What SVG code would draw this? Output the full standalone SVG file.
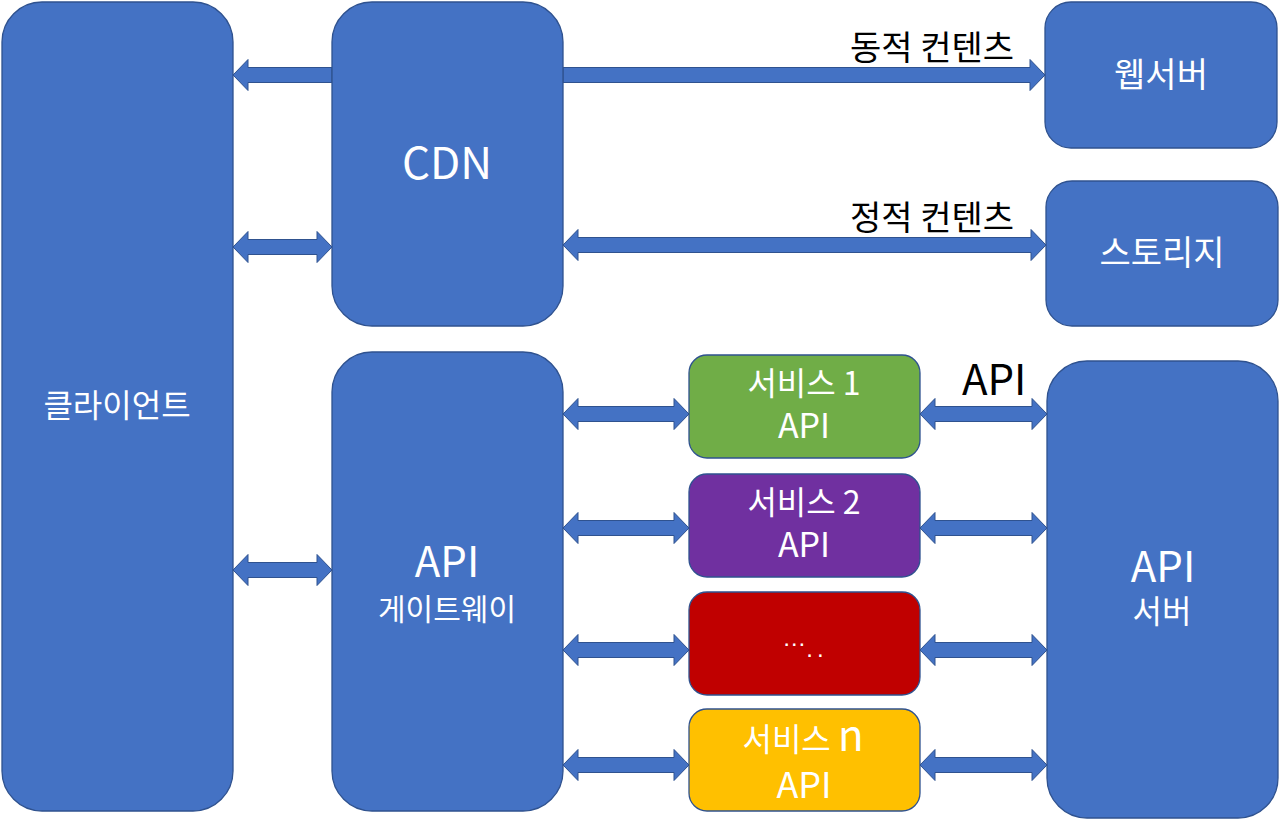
<svg xmlns="http://www.w3.org/2000/svg" width="1280" height="829" viewBox="0 0 1280 829">
<style>
.blue{fill:#4472C4;stroke:#2F528F;stroke-width:1.3}
.svc{stroke:#2F528F;stroke-width:1.3}
.arr{fill:#4472C4;stroke:#2F528F;stroke-width:1}
text{font-family:"Noto Sans CJK KR","Noto Sans",sans-serif;text-anchor:middle}
.w{fill:#FFFFFF}
.k{fill:#000000}
</style>
<rect width="1280" height="829" fill="#FFFFFF"/>
<g id="connectors">
<path class="arr" d="M233,75 L248,59.5 L248,67.5 L332,67.5 L332,82.5 L248,82.5 L248,90.5 Z"/>
<path class="arr" d="M233,247 L248,231.5 L248,239.5 L317,239.5 L317,231.5 L332,247 L317,262.5 L317,254.5 L248,254.5 L248,262.5 Z"/>
<path class="arr" d="M233,570 L248,554.5 L248,562.5 L317,562.5 L317,554.5 L332,570 L317,585.5 L317,577.5 L248,577.5 L248,585.5 Z"/>
<path class="arr" d="M563,67.5 L1030,67.5 L1030,59.5 L1045,75 L1030,90.5 L1030,82.5 L563,82.5 Z"/>
<path class="arr" d="M563,245 L578,229.5 L578,237.5 L1031,237.5 L1031,229.5 L1046,245 L1031,260.5 L1031,252.5 L578,252.5 L578,260.5 Z"/>
<path class="arr" d="M563,414 L578,398.5 L578,406.5 L674,406.5 L674,398.5 L689,414 L674,429.5 L674,421.5 L578,421.5 L578,429.5 Z"/>
<path class="arr" d="M563,528 L578,512.5 L578,520.5 L674,520.5 L674,512.5 L689,528 L674,543.5 L674,535.5 L578,535.5 L578,543.5 Z"/>
<path class="arr" d="M563,650 L578,634.5 L578,642.5 L674,642.5 L674,634.5 L689,650 L674,665.5 L674,657.5 L578,657.5 L578,665.5 Z"/>
<path class="arr" d="M563,765 L578,749.5 L578,757.5 L674,757.5 L674,749.5 L689,765 L674,780.5 L674,772.5 L578,772.5 L578,780.5 Z"/>
<path class="arr" d="M920,414 L935,398.5 L935,406.5 L1032,406.5 L1032,398.5 L1047,414 L1032,429.5 L1032,421.5 L935,421.5 L935,429.5 Z"/>
<path class="arr" d="M920,528 L935,512.5 L935,520.5 L1032,520.5 L1032,512.5 L1047,528 L1032,543.5 L1032,535.5 L935,535.5 L935,543.5 Z"/>
<path class="arr" d="M920,650 L935,634.5 L935,642.5 L1032,642.5 L1032,634.5 L1047,650 L1032,665.5 L1032,657.5 L935,657.5 L935,665.5 Z"/>
<path class="arr" d="M920,765 L935,749.5 L935,757.5 L1032,757.5 L1032,749.5 L1047,765 L1032,780.5 L1032,772.5 L935,772.5 L935,780.5 Z"/>
<text class="k" x="1014" y="60" font-size="34" style="text-anchor:end">동적 컨텐츠</text>
<text class="k" x="1014" y="230" font-size="34" style="text-anchor:end">정적 컨텐츠</text>
<text class="k" x="962" y="395" font-size="42" style="text-anchor:start">API</text>
</g>
<g id="client">
<rect class="blue" x="2" y="2" width="231" height="809" rx="40"/>
<text class="w" x="117" y="417" font-size="32">클라이언트</text>
</g>
<g id="cdn">
<rect class="blue" x="332" y="2" width="231" height="324" rx="40"/>
<text class="w" x="447" y="179" font-size="44">CDN</text>
</g>
<g id="webserver">
<rect class="blue" x="1045" y="2" width="232" height="146" rx="26"/>
<text class="w" x="1161" y="87" font-size="34">웹서버</text>
</g>
<g id="storage">
<rect class="blue" x="1046" y="181" width="232" height="145" rx="26"/>
<text class="w" x="1162" y="265" font-size="34">스토리지</text>
</g>
<g id="gateway">
<rect class="blue" x="332" y="352" width="231" height="459" rx="40"/>
<text class="w" x="447" y="577" font-size="42">API<tspan x="447" y="620" font-size="30">게이트웨이</tspan></text>
</g>
<g id="apiserver">
<rect class="blue" x="1047" y="361" width="231" height="457" rx="40"/>
<text class="w" x="1163" y="582" font-size="42">API<tspan x="1162" y="623" font-size="32">서버</tspan></text>
</g>
<g id="service1">
<rect class="svc" x="689" y="355" width="231" height="103" rx="18" fill="#70AD47"/>
<text class="w" x="804" y="395" font-size="32">서비스 1<tspan x="804" y="438" font-size="34">API</tspan></text>
</g>
<g id="service2">
<rect class="svc" x="689" y="474" width="231" height="103" rx="18" fill="#7030A0"/>
<text class="w" x="804" y="514" font-size="32">서비스 2<tspan x="804" y="557" font-size="34">API</tspan></text>
</g>
<g id="service-etc">
<rect class="svc" x="689" y="592" width="231" height="103" rx="18" fill="#C00000"/>
<text class="w" x="805" y="646" font-size="24" style="font-family:'Liberation Sans',sans-serif">…<tspan dy="11" letter-spacing="4">..</tspan></text>
</g>
<g id="servicen">
<rect class="svc" x="689" y="709" width="231" height="102" rx="18" fill="#FFC000"/>
<text class="w" x="803" y="751" font-size="32">서비스 <tspan font-size="42">n</tspan><tspan x="804" y="798" font-size="36">API</tspan></text>
</g>
</svg>
